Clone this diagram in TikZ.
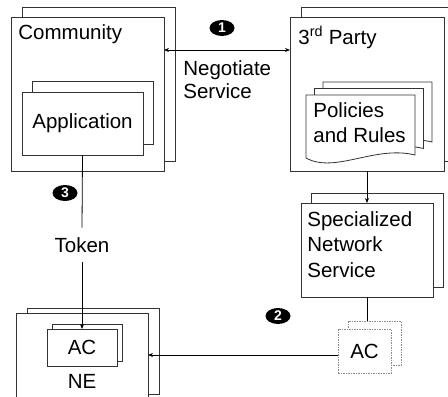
\documentclass[tikz,border=0pt]{standalone}
\usepackage{fontspec}
\setmainfont{Liberation Sans}
\usetikzlibrary{calc,shapes,arrows.meta,shadows,positioning}

\begin{document}
\begin{tikzpicture}[x=1pt,y=-1pt,line width=0.8pt,>={Stealth[length=5pt,width=4pt]}]
\fontsize{20.5}{25.5}\selectfont
\tikzstyle{box}=[draw=black!80, fill=white, inner sep=0pt, outer sep=0pt, anchor=north west]
\tikzstyle{lbl}=[inner sep=0pt, anchor=north west, align=left]
\tikzstyle{num}=[ellipse, fill=black, text=white, inner sep=0pt, minimum width=25pt, minimum height=16pt, font=\fontsize{14}{14}\selectfont\bfseries]
\useasboundingbox (0,0) rectangle (448,397);
\clip (0,0) rectangle (448,397);

% community side
\node[box, copy shadow={shadow xshift=11pt, shadow yshift=10pt}, minimum width=153pt, minimum height=154pt] (comm) at (11,17) {};
\node[lbl] (commtxt) at (18,24.5) {Community};
\node[box, copy shadow={shadow xshift=10pt, shadow yshift=11pt}, minimum width=121pt, minimum height=63pt] (app) at (22,92) {Application};

% 3rd party side
\node[box, copy shadow={shadow xshift=11pt, shadow yshift=10pt}, minimum width=154pt, minimum height=154pt] (party) at (290,17) {};
\node[lbl] (partytxt) at (298,26) {3\textsuperscript{rd} Party};
\filldraw[draw=black!80, fill=white, double copy shadow={shadow xshift=8.5pt, shadow yshift=6.5pt}]
  (306,95) -- (415,95) -- (415,155) .. controls (375,145) and (335,174) .. (306,158) -- cycle;
\node[lbl] (pol) at (313,102) {Policies\\and Rules};

\node[box, copy shadow={shadow xshift=10pt, shadow yshift=10pt}, minimum width=132pt, minimum height=94pt] (spec) at (301,203) {};
\node[lbl] (spectxt) at (307,211) {Specialized\\Network\\Service};
\node[box, draw=black!45, dash pattern=on 1.5pt off 1pt, copy shadow={shadow xshift=10pt, shadow yshift=8pt}, minimum width=53pt, minimum height=44pt] (acd) at (338,329) {AC};

% network element
\node[box, copy shadow={shadow xshift=11pt, shadow yshift=5pt}, minimum width=132pt, minimum height=86pt] (ne) at (16,313) {};
\node[box, copy shadow={shadow xshift=5pt, shadow yshift=5pt}, minimum width=70pt, minimum height=37pt] (acne) at (47,329) {AC};
\node[inner sep=0pt, anchor=base] (netxt) at (82,388) {NE};

% connectors
\node[inner sep=9.5pt] (token) at (82,245) {Token};
\node[lbl, font=\fontsize{20.5}{23}\selectfont] (nego) at (183,60.5) {Negotiate\\Service};
\coordinate (acdtop) at ($(acd.north)+(0,-8)$);
\coordinate (acdin) at ($(acd.west)+(0,4)$);
\draw[<->] ([yshift=-33pt]comm.north east) -- ([yshift=-33pt]party.north west);
\draw[->] (party.south) -- (spec.north);
\draw (spec.south) -- (spec.south |- acdtop);
\draw[->] (acdin) -- (ne.east |- acdin);
\draw (app.south) -- (token.north);
\draw[->] (token.south) -- (acne.north);

\foreach \n/\x/\y in {1/222/28,2/278/316,3/65/193}
    \node[num] (c\n) at (\x,\y) {\n};
\end{tikzpicture}
\end{document}
